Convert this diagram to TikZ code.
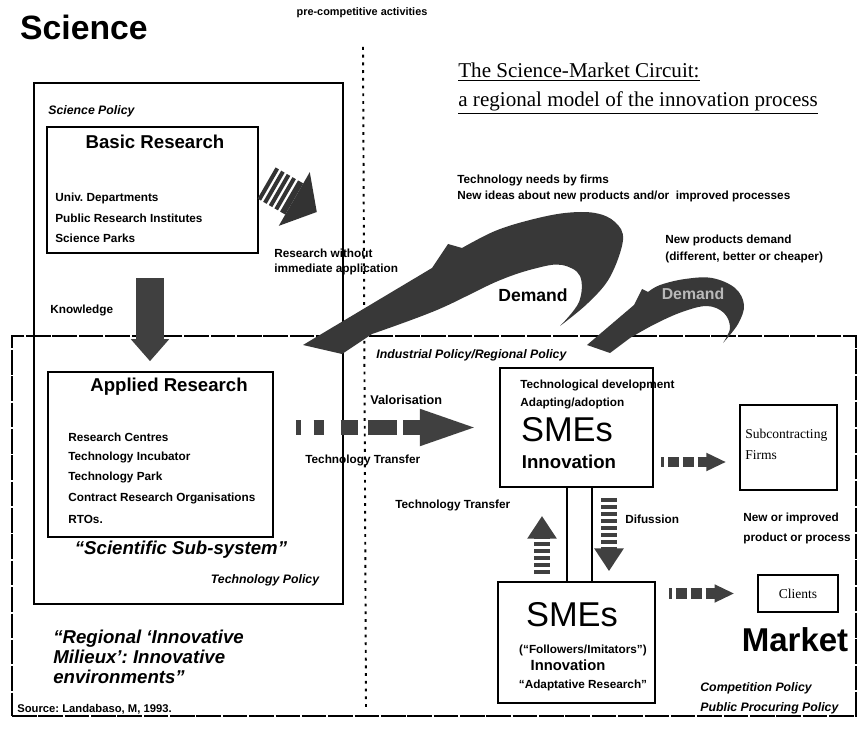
\documentclass[tikz,border=0pt]{standalone}
\usepackage{fontspec}
\setmainfont{Liberation Sans}
\newfontfamily\serifam{Liberation Serif}
\usetikzlibrary{arrows.meta,positioning,fit}

\begin{document}
\frenchspacing
\begin{tikzpicture}
  [
    x=0.02cm, y=-0.02cm,
    Box/.style={draw, line width=0.9pt, inner sep=0pt},
    Frame/.style={draw, line width=0.8pt, dash pattern=on 14pt off 1pt, inner sep=0pt},
    Dots/.style={line width=1.1pt, dash pattern=on 1.6pt off 2.8pt},
    Small/.style={font=\bfseries\fontsize{6.7}{8}\selectfont, anchor=west, inner sep=0pt},
    Policy/.style={font=\bfseries\itshape\fontsize{7}{8}\selectfont, anchor=west, inner sep=0pt},
    Head/.style={font=\bfseries\fontsize{10.6}{12}\selectfont, inner sep=0pt},
    Quote/.style={font=\bfseries\itshape\fontsize{10.6}{11.4}\selectfont, inner sep=0pt},
    BigText/.style={font=\fontsize{19.6}{22}\selectfont, inner sep=0pt},
    Serif/.style={font=\serifam\fontsize{7.7}{9}\selectfont, anchor=west, inner sep=0pt},
    Title/.style={font=\serifam\fontsize{12}{14}\selectfont, anchor=west, inner sep=0pt},
    Blob/.style={fill=black!78},
    ValArrow/.style={line width=9pt, black!75,
      dash pattern=on 2.8pt off 7.4pt on 5.7pt off 9.6pt on 10.2pt off 5.7pt on 16.4pt off 3.4pt on 60pt,
      -{Triangle[width=18pt, length=35pt]}},
    DashArrow/.style={line width=5.7pt, black!75,
      dash pattern=on 1.7pt off 2.3pt on 6.2pt off 2.3pt on 6.2pt off 2.3pt on 30pt,
      -{Triangle[width=9.6pt, length=11.3pt]}},
    StripeArrow/.style={line width=9.6pt, black!75, dash pattern=on 2.5pt off 1.5pt,
      -{Triangle[width=16pt, length=13pt]}},
    KnowArrow/.style={line width=16pt, black!75, -{Triangle[width=21pt, length=12.5pt]}}
  ]
  \useasboundingbox (0,0) rectangle (858,736);

  % Frames and boxes
  \node[Box, fit={(34,83) (343,604)}] (science) {};
  \node[Frame, fit={(12,336) (856,716)}] (regional) {};
  \node[Box, fit={(47,127) (258,253)}] (basic) {};
  \node[Box, fit={(48,372) (273,537)}] (applied) {};
  \node[Box, fit={(500,368) (653,487)}] (sme1) {};
  \node[Box, fit={(498,582) (655,703)}] (sme2) {};
  \node[Box, fit={(567,487) (592,582)}] (link) {};
  \node[Box, fit={(740,405) (837,490)}] (sub) {};
  \node[Box, fit={(758,575) (838,612)}] (clients) {};
  \coordinate (dtop) at (363,47);
  \coordinate (dbot) at (366,708);
  \draw[Dots] (dtop) -- (dbot);

  % Headings
  \node[font=\bfseries\fontsize{19.2}{22}\selectfont, inner sep=0pt] (sci) at (84,27) {Science};
  \node[font=\bfseries\fontsize{6.2}{7}\selectfont, inner sep=0pt] (precomp) at (362,13) {pre-competitive activities};
  \node[Title] (title1) at (458,72) {\underline{The Science-Market Circuit:}};
  \node[Title] (title2) at (458,103) {\underline{a regional model of the innovation process}};

  % Science side
  \node[Policy] (scipol) at (48,111) {Science Policy};
  \node[Head] (basict) at (155,142) {Basic Research};
  \node[Small] (univ) at (55,198) {Univ. Departments};
  \node[Small] (pri) at (55,218) {Public Research Institutes};
  \node[Small] (parks) at (55,238) {Science Parks};
  \node[Small] (rw1) at (274,253) {Research without};
  \node[Small] (rw2) at (274,269) {immediate application};
  \node[Small] (know) at (50,310) {Knowledge};
  \node[Head] (appliedt) at (169,387) {Applied Research};
  \node[Small] (rc) at (68,437) {Research Centres};
  \node[Small] (ti) at (68,457) {Technology Incubator};
  \node[Small] (tp) at (68,477) {Technology Park};
  \node[Small] (cro) at (68,498) {Contract Research Organisations};
  \node[Small] (rto) at (68,519) {RTOs.};
  \node[Quote] (subsys) at (181,550) {``Scientific Sub-system''};
  \node[Policy, anchor=center] (techpol) at (265,580) {Technology Policy};
  \node[Quote, anchor=west, align=left] (milieu) at (53,657)
    {``Regional `Innovative\\ Milieux': Innovative\\ environments''};
  \node[font=\bfseries\fontsize{6.4}{7}\selectfont, anchor=west, inner sep=0pt] (source) at (17,709)
    {Source: Landabaso, M, 1993.};

  % Market side
  \node[Small] (needs1) at (457,180) {Technology needs by firms};
  \node[Small] (needs2) at (457,196) {New ideas about new products and/or\ \ improved processes};
  \node[Small] (npd1) at (665,240) {New products demand};
  \node[Small] (npd2) at (665,257) {(different, better or cheaper)};
  \node[Policy] (indpol) at (376,355) {Industrial Policy/Regional Policy};
  \node[Small, font=\bfseries\fontsize{7.2}{8}\selectfont] (valor) at (370,400) {Valorisation};
  \node[Small] (tt1) at (305,460) {Technology Transfer};
  \node[Small] (tt2) at (395,505) {Technology Transfer};
  \node[Small] (techdev) at (520,385) {Technological development};
  \node[Small] (adapt) at (520,403) {Adapting/adoption};
  \node[BigText] (smes1) at (567,430) {SMEs};
  \node[Head] (innov1) at (569,462) {Innovation};
  \node[Small] (difu) at (625,519) {Difussion};
  \node[Serif] (subt1) at (745,435) {Subcontracting};
  \node[Serif] (subt2) at (745,455) {Firms};
  \node[Small] (newi1) at (743,518) {New or improved};
  \node[Small] (newi2) at (743,538) {product or process};
  \node[Serif, anchor=center] (clientst) at (798,594) {Clients};
  \node[BigText] (smes2) at (572,615) {SMEs};
  \node[Small, anchor=center] (follow) at (583,650) {(``Followers/Imitators'')};
  \node[Head, font=\bfseries\fontsize{8.4}{10}\selectfont] (innov2) at (568,665) {Innovation};
  \node[Small, anchor=center] (adres) at (583,685) {``Adaptative Research''};
  \node[font=\bfseries\fontsize{18.8}{22}\selectfont, inner sep=0pt] (market) at (795,640) {Market};
  \node[Policy] (comppol) at (700,688) {Competition Policy};
  \node[Policy] (procpol) at (700,708) {Public Procuring Policy};

  % Demand arrows
  \fill[Blob] (303,345) -- (342,354) -- (372,334)
    -- plot[smooth, tension=0.6] coordinates {(372,334) (437,310) (498,281) (537,268) (562,265) (580,276) (579,302) (560,326)}
    -- plot[smooth, tension=0.6] coordinates {(560,326) (588,303) (610,277) (623,240) (615,222) (595,213) (565,213) (530,220) (495,231) (462,248)}
    -- (448,244) -- (432,268) -- cycle;
  \fill[Blob] (587,345) -- (610,353) -- (630,338)
    -- plot[smooth, tension=0.6] coordinates {(630,338) (655,324) (682,312) (707,306) (724,313) (730,328) (723,343)}
    -- plot[smooth, tension=0.6] coordinates {(723,343) (738,324) (744,305) (735,288) (712,278) (685,279) (660,285) (648,292)}
    -- (642,289) -- (634,305) -- cycle;
  \node[font=\bfseries\fontsize{10}{12}\selectfont, inner sep=0pt] (demand) at (533,295) {Demand};
  \node[font=\bfseries\fontsize{9}{11}\selectfont, text=gray!55, inner sep=0pt] (demand2) at (693,294) {Demand};

  % Striped arrow
  \begin{scope}[shift={(296,200)}, rotate=-30]
    \fill[black!80] (-34,-18) rectangle (-30,18);
    \fill[black!80] (-27.5,-18) rectangle (-23.5,18);
    \fill[black!80] (-21,-18) rectangle (-17,18);
    \fill[black!80] (-14.5,-18) rectangle (-10.5,18);
    \fill[black!80] (-8,-18) rectangle (-2,18);
    \fill[black!80] (-2,-31) -- (24,0) -- (-2,31) -- cycle;
  \end{scope}

  % Connectors
  \draw[KnowArrow, shorten <=14pt, shorten >=5.7pt] (basic.south -| 150,0) -- (applied.north -| 150,0);
  \draw[ValArrow, shorten <=12.5pt, shorten >=10.2pt] (applied.east |- sme1.west) -- (sme1.west);
  \draw[DashArrow, shorten <=4pt, shorten >=7.4pt] (sme1.east |- 0,462) -- (sub.west |- 0,462);
  \draw[DashArrow, shorten <=7.4pt, shorten >=13pt] (sme2.east |- clients.west) -- (clients.west);
  \draw[StripeArrow, shorten <=4pt, shorten >=16pt] (sme2.north -| 542,0) -- (sme1.south -| 542,0);
  \draw[StripeArrow, shorten <=5.7pt, shorten >=5.7pt] (sme1.south -| 609,0) -- (sme2.north -| 609,0);
\end{tikzpicture}
\end{document}
